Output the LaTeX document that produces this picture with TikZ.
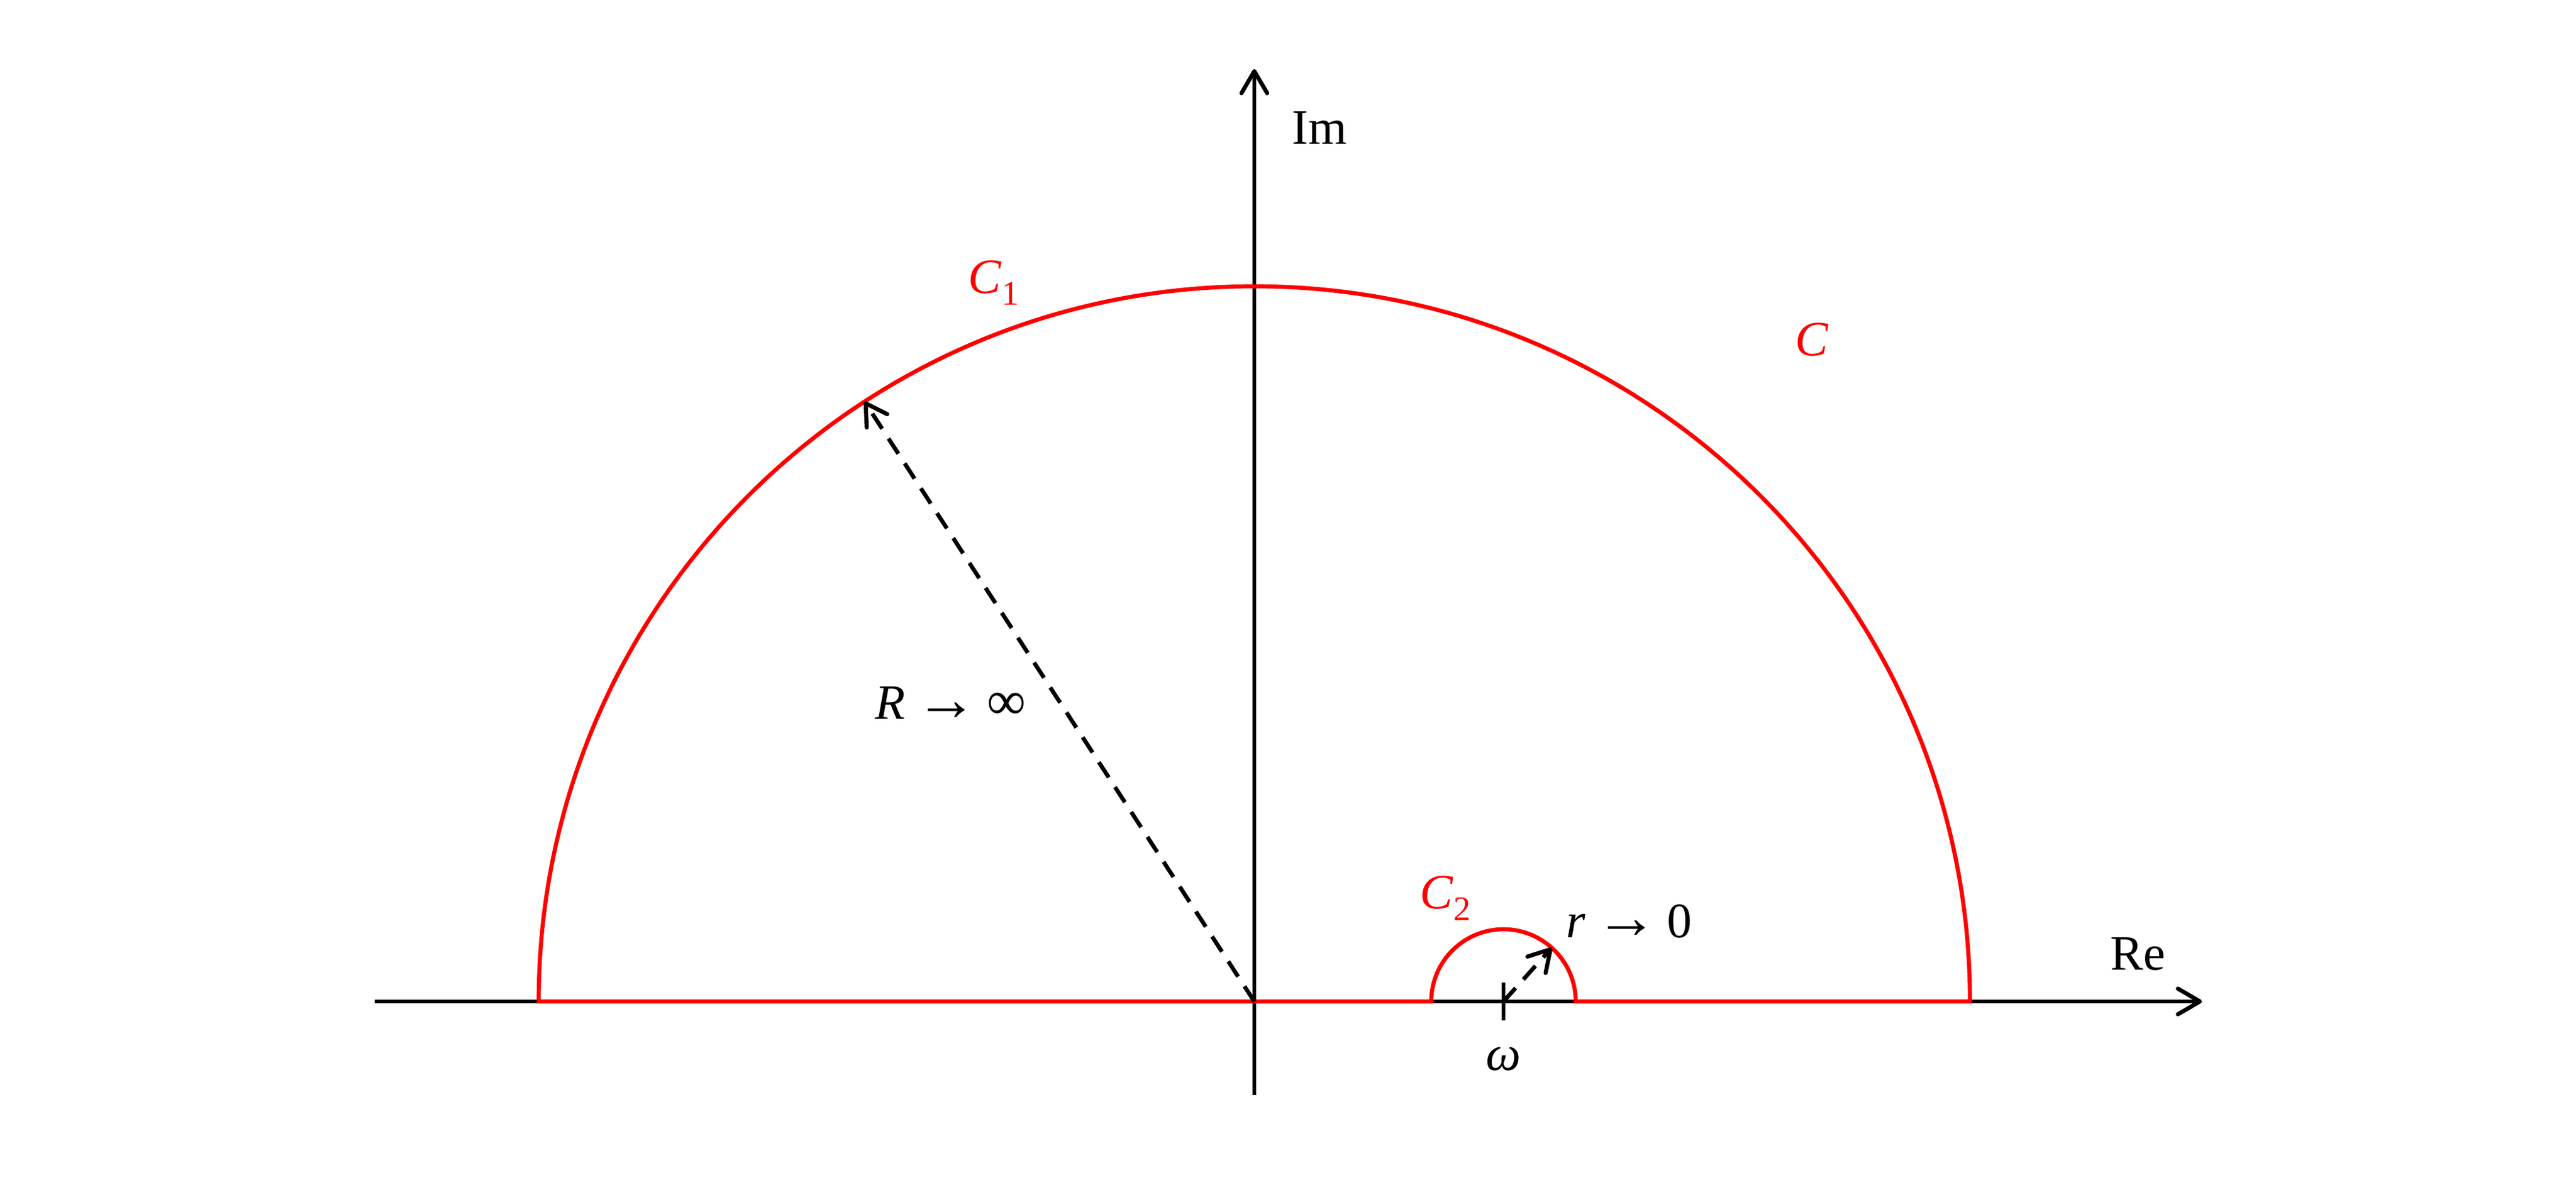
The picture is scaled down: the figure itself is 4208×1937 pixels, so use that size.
\documentclass[tikz,border=0pt]{standalone}
\usepackage{graphicx}
\usepackage{fontspec}
\setmainfont{Liberation Serif}
\usetikzlibrary{arrows.meta,calc}
\tikzset{
  ax/.style={line width=1.9pt,-{Straight Barb[length=3.6mm,width=4.2mm,round]}},
  contour/.style={line width=1.9pt,red,line join=miter},
  radarrow/.style={line width=1.9pt,dash pattern=on 8.4pt off 5.4pt,-{Straight Barb[length=3.4mm,width=4mm,round]}},
  lbl/.style={inner sep=0pt,font=\fontsize{23}{27}\selectfont},
  rlbl/.style={lbl,text=red}
}
\newcommand{\mysub}[1]{\raisebox{-5.5pt}{\fontsize{16}{16}\selectfont #1}}
\newcommand{\myto}{\hspace{0.2em}\raisebox{-0.5pt}{\scalebox{1.25}{→}}\hspace{0.2em}}
\begin{document}
\begin{tikzpicture}[x=0.01cm,y=0.01cm]
\useasboundingbox (-2049,-300) rectangle (2159,1637);
\coordinate (O) at (0,0);
\coordinate (ReL) at (-1437,0);
\coordinate (ReR) at (1548,0);
\coordinate (ImB) at (0,-153);
\coordinate (ImT) at (0,1524);
\coordinate (W) at (407,0);
\coordinate (Wt) at (407,31);
\coordinate (Wb) at (407,-31);
\coordinate (P) at (123:1169);
\coordinate (Q) at ($(W)+(48:118)$);
% axes
\draw[ax] (ReL) -- (ReR);
\draw[ax] (ImB) -- (ImT);
% contour
\draw[contour] (-1169,0) arc[start angle=180,end angle=0,radius=1169] -- (525,0)
  arc[start angle=0,end angle=180,radius=118] -- cycle;
% tick at omega
\draw[line width=1.9pt] (Wb) -- (Wt);
% radius arrows
\draw[radarrow] (O) -- (P);
\draw[radarrow] (W) -- (Q);
% labels
\node[lbl] (im) at (106,1428) {Im};
\node[lbl] (re) at (1443,78) {Re};
\node[rlbl] (c1) at (-426,1175) {\textit{C}\mysub{1}};
\node[rlbl] (c) at (911,1082) {\textit{C}};
\node[rlbl] (c2) at (312,169) {\textit{C}\mysub{2}};
\node[lbl] (rto) at (612,131) {\textit{r}\myto{}0};
\node[lbl] (Rto) at (-496,487) {\textit{R}\myto{}\scalebox{1.1}{∞}};
\node[lbl] (om) at (407,-94) {\textit{ω}};
\end{tikzpicture}
\end{document}
